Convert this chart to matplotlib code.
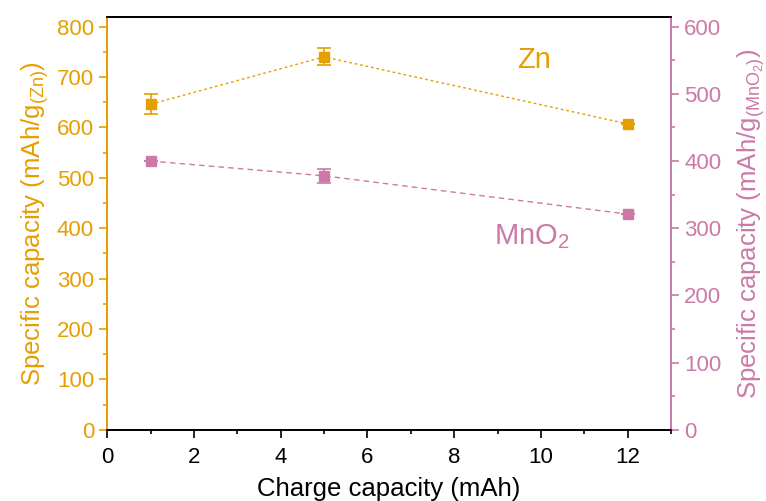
import matplotlib
matplotlib.use("Agg")
import matplotlib.pyplot as plt
from matplotlib.ticker import MultipleLocator

plt.rcParams['font.family'] = ['Liberation Sans', 'DejaVu Sans']
plt.rcParams['mathtext.fontset'] = 'custom'
plt.rcParams['mathtext.rm'] = 'Liberation Sans'
plt.rcParams['mathtext.it'] = 'Liberation Sans'

# charge capacity (mAh)
charge = [1, 5, 12]
# Zn specific capacity (left axis)
zn_cap = [646, 740, 607]
zn_err = [20, 17, 0]
# MnO2 specific capacity (right axis)
mno2_cap = [400, 378, 321]
mno2_err = [0, 10, 0]

ORANGE = "#E69F00"
PINK = "#CC79A7"

fig = plt.figure(figsize=(7.66, 5.01), dpi=100)
ax = fig.add_axes([0.14, 0.142, 0.736, 0.825])
ax2 = ax.twinx()

ax.errorbar(charge, zn_cap, yerr=zn_err, color=ORANGE, marker="s", ms=7,
            ls=(0, (2, 2)), lw=1, capsize=5, elinewidth=1.2, capthick=1.2)
ax2.errorbar(charge, mno2_cap, yerr=mno2_err, color=PINK, marker="s", ms=7,
             ls=(0, (4, 3)), lw=1, capsize=5, elinewidth=1.2, capthick=1.2)

ax.set_xlim(0, 13)
ax.set_ylim(0, 820)
ax2.set_ylim(0, 615)

ax.xaxis.set_major_locator(MultipleLocator(2))
ax.xaxis.set_minor_locator(MultipleLocator(1))
ax.yaxis.set_major_locator(MultipleLocator(100))
ax.yaxis.set_minor_locator(MultipleLocator(50))
ax2.yaxis.set_major_locator(MultipleLocator(100))
ax2.yaxis.set_minor_locator(MultipleLocator(50))

for a in (ax, ax2):
    a.tick_params(which="major", direction="out", length=6, width=1.2, labelsize=16)
    a.tick_params(which="minor", direction="out", length=3, width=1.2)
    for s in a.spines.values():
        s.set_linewidth(1.3)

ax.tick_params(axis="y", which="both", colors=ORANGE)
ax2.tick_params(axis="y", which="both", colors=PINK)
ax.tick_params(axis="x", colors="black", pad=6)
ax2.spines["left"].set_color(ORANGE)
ax2.spines["right"].set_color(PINK)
ax.spines["left"].set_color(ORANGE)
ax.spines["right"].set_color(PINK)

ax.set_xlabel("Charge capacity (mAh)", fontsize=18.5, labelpad=7)
ax.set_ylabel(r"Specific capacity (mAh/g$_{\mathrm{(Zn)}}$)", fontsize=18.5,
              color=ORANGE, labelpad=4)
ax2.set_ylabel(r"Specific capacity (mAh/g$_{\mathrm{(MnO_2)}}$)", fontsize=18.5,
               color=PINK, labelpad=10)

ax.text(9.85, 734, "Zn", color=ORANGE, fontsize=21, ha="center", va="center")
ax.text(9.8, 383, r"MnO$_2$", color=PINK, fontsize=21, ha="center", va="center")

fig.savefig("out.png", dpi=100)
